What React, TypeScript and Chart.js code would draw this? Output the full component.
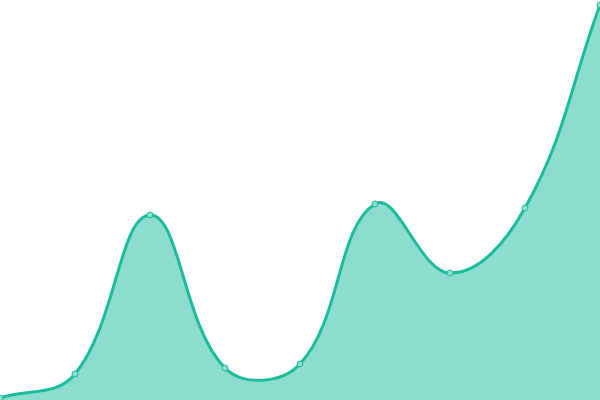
import { useEffect, useRef } from 'react';
import { Chart, registerables } from 'chart.js';

Chart.register(...registerables);

const labels = ['1', '2', '3', '4', '5', '6', '7', '8', '9'];
const values = [1, 13, 92.5, 16, 18, 98, 63.5, 96, 197.5];

export default function App() {
  const chartRef = useRef<HTMLCanvasElement>(null);
  const chartInstanceRef = useRef<Chart | null>(null);

  useEffect(() => {
    document.body.style.margin = '0';
    if (!chartRef.current) return;
    const ctx = chartRef.current.getContext('2d');
    if (!ctx) return;

    if (chartInstanceRef.current) chartInstanceRef.current.destroy();

    chartInstanceRef.current = new Chart(ctx, {
      type: 'line',
      data: {
        labels,
        datasets: [{
          data: values,
          fill: true,
          backgroundColor: 'rgba(26, 188, 156, 0.5)',
          borderColor: '#1abc9c',
          borderWidth: 3,
          tension: 0.4,
          pointRadius: 3,
          pointBorderWidth: 1,
          pointBackgroundColor: '#8cddcd',
          pointBorderColor: '#1abc9c'
        }]
      },
      options: {
        animation: false,
        responsive: true,
        maintainAspectRatio: false,
        scales: {
          x: { display: false, offset: false },
          y: { display: false, min: 0, max: 200 }
        },
        plugins: {
          legend: { display: false },
          tooltip: { enabled: false }
        }
      }
    });

    return () => {
      if (chartInstanceRef.current) {
        chartInstanceRef.current.destroy();
        chartInstanceRef.current = null;
      }
    };
  }, []);

  // the chart insets its area by the point overflow, so the canvas is made
  // larger and shifted so the plot runs edge to edge like the reference
  return (
    <div style={{ width: 600, height: 400, position: 'relative', overflow: 'hidden' }}>
      <div style={{ position: 'absolute', left: -5, top: -5, width: 610, height: 410 }}>
        <canvas ref={chartRef} />
      </div>
    </div>
  );
}
